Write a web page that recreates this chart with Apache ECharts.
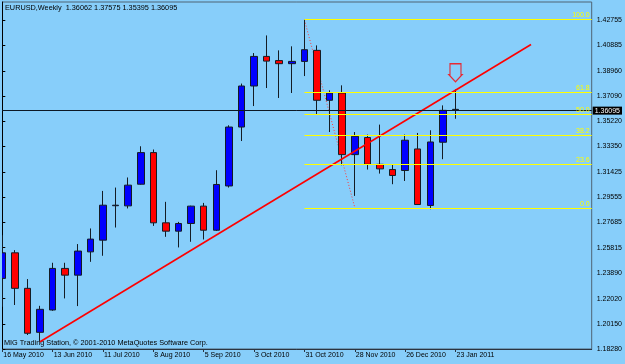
<!DOCTYPE html>
<html>
<head>
<meta charset="utf-8">
<script src="https://cdn.jsdelivr.net/npm/echarts@6/dist/echarts.min.js"></script>
<style>
  html, body { margin: 0; padding: 0; background: #87cefa; }
  #chart { width: 625px; height: 364px; }
</style>
</head>
<body>
<div id="chart"></div>
<script>
// weekly bars, EURUSD
const dates = [
    "16 May 2010", "23 May 2010", "30 May 2010", "6 Jun 2010", "13 Jun 2010", "20 Jun 2010",
    "27 Jun 2010", "4 Jul 2010", "11 Jul 2010", "18 Jul 2010", "25 Jul 2010", "1 Aug 2010",
    "8 Aug 2010", "15 Aug 2010", "22 Aug 2010", "29 Aug 2010", "5 Sep 2010", "12 Sep 2010",
    "19 Sep 2010", "26 Sep 2010", "3 Oct 2010", "10 Oct 2010", "17 Oct 2010", "24 Oct 2010",
    "31 Oct 2010", "7 Nov 2010", "14 Nov 2010", "21 Nov 2010", "28 Nov 2010", "5 Dec 2010",
    "12 Dec 2010", "19 Dec 2010", "26 Dec 2010", "2 Jan 2011", "9 Jan 2011", "16 Jan 2011",
    "23 Jan 2011"
];
const opens = [
    1.2353, 1.2543, 1.2279, 1.1952, 1.2118, 1.2427, 1.2377, 1.2550, 1.2637, 1.2893,
    1.2892, 1.3053, 1.3288, 1.2766, 1.2704, 1.2761, 1.2890, 1.2711, 1.3040, 1.3478,
    1.3783, 1.4003, 1.3972, 1.3949, 1.3966, 1.4048, 1.3677, 1.3731, 1.3273, 1.3400,
    1.3201, 1.3162, 1.3155, 1.3315, 1.2895, 1.3365, 1.36062
];
const highs = [
    1.2674, 1.2563, 1.2348, 1.2149, 1.2469, 1.2469, 1.2608, 1.2724, 1.3003, 1.3028,
    1.3103, 1.3335, 1.3311, 1.2922, 1.2773, 1.2893, 1.2914, 1.3157, 1.3491, 1.3801,
    1.4028, 1.4159, 1.4048, 1.4078, 1.42755, 1.4085, 1.3751, 1.3788, 1.3441, 1.3422,
    1.3496, 1.3201, 1.3422, 1.3434, 1.3454, 1.3639, 1.37575
];
const lows = [
    1.2142, 1.2155, 1.1932, 1.1882, 1.2112, 1.2204, 1.2147, 1.2476, 1.2521, 1.2731,
    1.2873, 1.3050, 1.2743, 1.2662, 1.2583, 1.2625, 1.2642, 1.2705, 1.3028, 1.3374,
    1.3634, 1.3768, 1.3694, 1.3731, 1.3857, 1.3573, 1.3441, 1.3194, 1.2966, 1.3162,
    1.3132, 1.3053, 1.3077, 1.2900, 1.2867, 1.3239, 1.35395
];
const closes = [
    1.2543, 1.2279, 1.1945, 1.2123, 1.2427, 1.2377, 1.2556, 1.2645, 1.2897, 1.2897,
    1.3046, 1.3288, 1.2766, 1.2704, 1.2761, 1.2890, 1.2711, 1.3051, 1.3478, 1.3783,
    1.4003, 1.3968, 1.3949, 1.3966, 1.4053, 1.3677, 1.3731, 1.3273, 1.3409, 1.3201,
    1.3167, 1.3118, 1.3380, 1.2902, 1.3367, 1.3602, 1.36095
];

const priceTicks = [
    1.18280, 1.20150, 1.22020, 1.23890, 1.25815, 1.27685, 1.29555,
    1.31425, 1.33350, 1.35220, 1.37090, 1.38960, 1.40885, 1.42755
];
const dateTicks = [0, 4, 8, 12, 16, 20, 24, 28, 32, 36];

const fibNames = ["100.0", "61.8", "50.0", "38.2", "23.6", "0.0"];
const fibPrices = [1.42774, 1.37348, 1.35712, 1.34151, 1.31995, 1.28724];
const fibStart = 24;

const trendLine = [[3, 1.1882], [42, 1.4092]];
const fibSwing = [[24, 1.42755], [28, 1.2880]];
const sellArrow = [[36, 1.3881]];
const lastPrice = 1.36095;

const header = "EURUSD,Weekly  1.36062 1.37575 1.35395 1.36095";
const footer = "MIG Trading Station, \u00a9 2001-2010 MetaQuotes Software Corp.";

const X_MIN = -0.024;
const X_MAX = 46.82;
const Y_MIN = 1.1828;
const Y_MAX = 1.44075;
const FONT = "Liberation Sans";
const BG = "#87cefa";

let candles = [];
for (let i = 0; i < dates.length; i++) {
    candles.push([i, opens[i], closes[i], lows[i], highs[i]]);
}

let fibLines = [];
for (let k = 0; k < fibPrices.length; k++) {
    fibLines.push([
        { coord: [fibStart, fibPrices[k]], label: { formatter: fibNames[k] } },
        { coord: [X_MAX, fibPrices[k]] }
    ]);
}

const chart = echarts.init(document.getElementById("chart"));

chart.setOption({
    backgroundColor: BG,
    animation: false,
    grid: {
        left: 2,
        top: 2,
        right: 30,
        bottom: 15,
        show: true,
        borderColor: "#4f6474",
        borderWidth: 1
    },
    xAxis: {
        type: "value",
        min: X_MIN,
        max: X_MAX,
        axisLine: { lineStyle: { color: "#2a3440" } },
        axisTick: {
            customValues: dateTicks,
            length: 3,
            lineStyle: { color: "#2a3440" }
        },
        axisLabel: {
            customValues: dateTicks,
            formatter: v => dates[v],
            align: "left",
            margin: 3,
            padding: [0, 0, 0, 1],
            fontFamily: FONT,
            fontSize: 7,
            color: "#000"
        },
        splitLine: { show: false }
    },
    yAxis: {
        type: "value",
        position: "right",
        min: Y_MIN,
        max: Y_MAX,
        axisLine: { show: true, lineStyle: { color: "#000" } },
        axisTick: {
            show: true,
            customValues: priceTicks,
            length: 3,
            lineStyle: { color: "#000" }
        },
        axisLabel: {
            customValues: priceTicks,
            formatter: v => v.toFixed(5),
            margin: 5,
            fontFamily: FONT,
            fontSize: 7,
            color: "#000"
        },
        splitLine: { show: false }
    },
    series: [
        {
            type: "candlestick",
            data: candles,
            barWidth: 7,
            clip: true,
            itemStyle: {
                color: "#0000ff",
                color0: "#ff0000",
                borderColor: "#141c24",
                borderColor0: "#141c24",
                borderWidth: 1
            },
            markLine: {
                symbol: "none",
                silent: true,
                data: [
                    {
                        yAxis: lastPrice,
                        lineStyle: { color: "#0c1824", width: 1, type: "solid" },
                        label: {
                            position: "end",
                            distance: 1,
                            formatter: lastPrice.toFixed(5),
                            backgroundColor: "#000",
                            color: "#fff",
                            padding: [1, 2, 0, 2],
                            fontFamily: FONT,
                            fontSize: 7
                        }
                    }
                ]
            },
            z: 3
        },
        {
            type: "line",
            data: fibSwing,
            showSymbol: false,
            lineStyle: { color: "#ff3a3a", width: 1, type: [1, 2] },
            markLine: {
                symbol: "none",
                silent: true,
                lineStyle: { color: "#ffff00", width: 1, type: "solid" },
                label: {
                    position: "insideEndTop",
                    distance: [2, 1],
                    color: "#ffff00",
                    fontFamily: FONT,
                    fontSize: 7
                },
                data: fibLines
            },
            z: 2
        },
        {
            type: "line",
            data: trendLine,
            showSymbol: false,
            lineStyle: { color: "#ff0000", width: 1.6 },
            z: 4
        },
        {
            type: "scatter",
            data: sellArrow,
            symbol: "path://M1,0 L12,0 L12,11 L13,11 L6.5,18 L0,11 L1,11 Z",
            symbolSize: [13, 18],
            itemStyle: {
                color: "rgba(0,0,0,0)",
                borderColor: "#ff0000",
                borderWidth: 1.3
            },
            z: 5
        }
    ],
    graphic: [
        {
            // hide the part of the first bar that falls left of the frame
            type: "rect",
            left: 0,
            top: 0,
            shape: { width: 2, height: 364 },
            style: { fill: BG },
            z: 100
        },
        {
            type: "text",
            left: 5,
            top: 4,
            style: {
                text: header,
                font: "7.3px " + FONT,
                fill: "#000"
            }
        },
        {
            type: "text",
            left: 4,
            top: 339,
            style: {
                text: footer,
                font: "7.3px " + FONT,
                fill: "#000"
            }
        }
    ]
});
</script>
</body>
</html>
